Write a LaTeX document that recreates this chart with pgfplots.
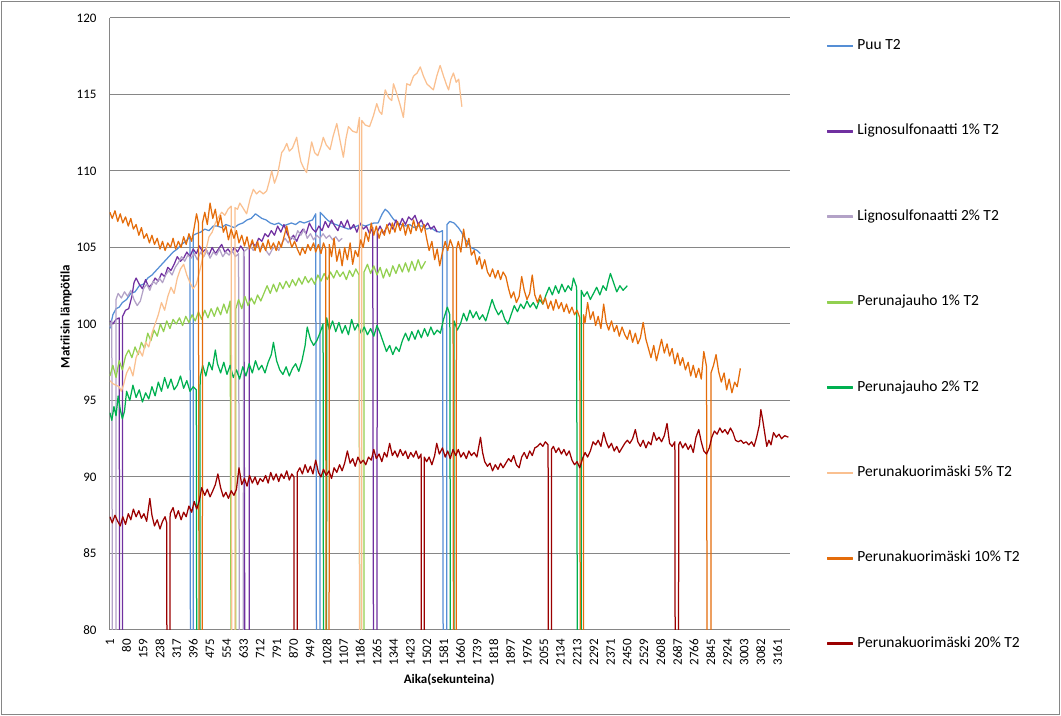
\documentclass[border=0pt]{standalone}
\usepackage{fontspec}
\setmainfont{Carlito}
\usepackage{pgfplots}
\pgfplotsset{compat=1.18}

\definecolor{axisgray}{HTML}{868686}
\definecolor{cPuu}{HTML}{558ED5}
\definecolor{cLigA}{HTML}{7030A0}
\definecolor{cLigB}{HTML}{B3A2C7}
\definecolor{cPjA}{HTML}{92D050}
\definecolor{cPjB}{HTML}{00B050}
\definecolor{cPkA}{HTML}{FAC090}
\definecolor{cPkB}{HTML}{E46C0A}
\definecolor{cPkC}{HTML}{9B0000}

\begin{document}
\begin{tikzpicture}
\path (0,0) rectangle (1061bp,716bp);
\draw[axisgray, line width=1bp] (1.5bp,1.5bp) rectangle (1059.5bp,714.5bp);
\begin{axis}[
    at={(109.7bp,86bp)}, anchor=south west,
    scale only axis, width=680.3bp, height=612bp,
    xmin=0, xmax=3220, ymin=80, ymax=120,
    axis x line*=bottom, axis y line*=left,
    axis line style={draw=axisgray, line width=1bp},
    ymajorgrids, grid style={draw=axisgray, line width=1bp},
    major tick length=0pt,
    ytick={80,85,...,120},
    yticklabels={80,85,90,95,100,105,110,115,120},
    xtick={1,80,...,3161},
    xticklabels={1,80,159,238,317,396,475,554,633,712,791,870,949,1028,1107,1186,1265,1344,1423,1502,1581,1660,1739,1818,1897,1976,2055,2134,2213,2292,2371,2450,2529,2608,2687,2766,2845,2924,3003,3082,3161},
    ticklabel style={font=\fontsize{13bp}{15bp}\selectfont, inner sep=0pt},
    xticklabel style={rotate=90, anchor=east},
    yticklabel style={anchor=east},
    xticklabel shift=9bp, yticklabel shift=13bp,
    xlabel={\textbf{Aika(sekunteina)}},
    ylabel={\textbf{Matriisin lämpötila}},
    label style={font=\fontsize{13bp}{15bp}\selectfont},
    xlabel style={at={(axis description cs:0.499,-0.0817)}, anchor=center},
    ylabel style={at={(axis description cs:-0.0642,0.512)}, anchor=center},
    every axis plot/.append style={line width=1.25bp, line join=round, mark=none},
    legend image code/.code={\fill[#1] (0bp,-0.75bp) rectangle (25bp,0.75bp);},
    legend cell align=left,
    legend style={at={(axis description cs:1.0544,0.9668)}, anchor=north west,
        draw=none, fill=none, inner sep=0pt, column sep=4bp, row sep=70.4bp,
        font=\fontsize{15.5bp}{18bp}\selectfont,
        nodes={inner sep=0pt, text height=11bp, text depth=4bp}},
]
% Puu T2
\addplot[color=cPuu, forget plot] coordinates {
(1,99.7) (15,100.6) (30,101.0) (45,101.1) (60,101.4) (80,101.6) (100,102.0) (120,102.1) (140,102.5) (160,102.6) (180,103.0) (200,103.2) (220,103.5) (240,103.8) (260,104.1) (280,104.4) (300,104.7) (320,104.9) (340,105.2) (360,105.4) (380,105.7) (388,0) (394,0) (396,105.8) (410,105.9) (430,106.0) (450,106.2) (470,106.1) (490,106.4) (510,106.4) (530,106.3) (550,106.5) (570,106.4) (590,106.3) (610,106.5) (630,106.6) (650,106.8) (670,106.9) (690,107.2) (700,107.1) (720,106.9) (740,106.8) (760,106.6) (780,106.5) (800,106.6) (820,106.4) (840,106.5) (860,106.6) (880,106.5) (900,106.7) (920,106.6) (940,106.7) (960,106.8) (975,107.2) (988,0) (994,0) (996,107.3) (1010,107.1) (1030,106.8) (1050,106.6) (1070,106.5) (1090,106.4) (1110,106.3) (1130,106.2) (1150,106.3) (1170,106.4) (1190,106.5) (1210,106.4) (1230,106.5) (1250,106.6) (1270,106.6) (1290,107.2) (1304,107.5) (1320,107.3) (1340,106.9) (1360,106.6) (1380,106.5) (1400,106.4) (1420,106.5) (1440,106.3) (1460,106.4) (1480,106.4) (1500,106.2) (1520,106.3) (1540,106.1) (1560,106.0) (1575,106.1) (1588,0) (1594,0) (1596,106.5) (1610,106.7) (1630,106.6) (1650,106.3) (1665,106.0) (1680,105.6) (1695,105.3) (1710,105.0) (1725,104.9) (1740,104.8) (1754,104.6)
};
% Lignosulfonaatti 1% T2
\addplot[color=cLigA, forget plot] coordinates {
(1,100.2) (15,100.0) (30,100.3) (45,100.4) (53,0) (59,0) (61,100.5) (75,100.9) (90,101.0) (105,101.8) (115,102.7) (125,103.0) (140,102.6) (155,102.3) (170,102.9) (185,102.4) (200,102.6) (215,103.0) (230,102.8) (245,103.3) (260,103.1) (275,103.7) (290,103.5) (305,103.9) (320,104.4) (335,104.1) (350,104.3) (365,104.7) (380,104.4) (395,104.9) (410,104.6) (425,105.1) (440,104.7) (455,104.9) (470,104.5) (485,105.0) (500,104.6) (515,104.9) (530,105.2) (545,104.7) (560,104.9) (575,104.6) (590,105.0) (605,104.7) (620,105.1) (635,104.8) (653,0) (659,0) (661,105.0) (675,105.3) (690,105.1) (705,105.6) (720,105.4) (735,105.9) (750,105.7) (765,106.1) (780,105.8) (795,106.4) (810,106.0) (825,106.5) (840,105.9) (855,105.5) (870,105.8) (885,105.4) (900,105.9) (915,106.2) (930,105.9) (945,106.6) (960,106.2) (975,106.0) (990,106.4) (1005,106.1) (1020,106.7) (1035,106.3) (1050,106.8) (1065,106.4) (1080,106.1) (1095,106.7) (1110,106.3) (1125,106.8) (1140,106.2) (1155,106.5) (1170,106.0) (1185,106.6) (1200,106.2) (1215,106.4) (1230,105.9) (1245,106.3) (1258,0) (1264,0) (1266,106.0) (1280,106.4) (1295,105.9) (1310,106.3) (1325,106.6) (1340,106.2) (1355,106.8) (1370,106.4) (1385,106.9) (1400,106.5) (1415,107.0) (1430,106.8) (1445,107.1) (1460,106.5) (1475,106.8) (1490,106.3) (1505,106.6) (1520,106.2) (1535,106.4) (1550,106.0)
};
% Lignosulfonaatti 2% T2
\addplot[color=cLigB, forget plot] coordinates {
(1,99.8) (10,100.2) (22,0) (28,0) (30,101.6) (40,102.0) (55,101.7) (70,102.1) (85,101.8) (100,102.2) (115,101.6) (130,101.2) (145,101.5) (160,102.3) (175,102.6) (190,102.2) (205,102.8) (220,102.6) (235,103.0) (250,102.7) (265,103.2) (280,103.5) (295,103.2) (310,103.7) (325,104.0) (340,104.4) (355,104.1) (370,104.5) (385,104.3) (400,104.6) (415,104.2) (430,104.7) (445,104.4) (460,104.8) (475,104.3) (490,104.7) (505,104.5) (520,104.9) (535,104.4) (550,104.7) (565,104.5) (580,104.8) (595,104.4) (610,104.6) (625,0) (631,0) (633,104.7) (650,104.9) (665,105.1) (680,104.8) (695,105.2) (710,104.9) (725,105.2) (740,104.8) (755,104.5) (770,104.9) (785,105.1) (800,104.8) (815,105.3) (830,105.6) (845,105.3) (860,105.7) (875,105.5) (890,106.1) (905,105.8) (920,106.2) (935,105.6) (950,105.9) (965,105.5) (980,105.8) (995,105.6) (1010,105.9) (1025,105.6) (1040,105.8) (1055,105.5) (1070,105.7) (1085,105.4) (1100,105.6)
};
% Perunajauho 1% T2
\addplot[color=cPjA, forget plot] coordinates {
(1,96.6) (15,97.3) (30,96.5) (45,97.6) (60,97.0) (75,97.9) (90,98.3) (105,97.8) (120,98.5) (135,98.0) (150,98.8) (165,98.4) (180,99.4) (195,98.9) (210,99.6) (225,99.2) (240,100.0) (255,99.5) (270,100.2) (285,99.7) (300,100.3) (315,100.0) (330,100.4) (345,99.9) (360,100.5) (375,100.1) (390,100.6) (405,100.2) (420,100.8) (435,100.3) (450,100.9) (465,100.4) (480,101.0) (495,100.5) (510,101.1) (525,100.6) (540,101.3) (555,100.7) (570,101.5) (589,0) (595,0) (597,101.0) (610,101.6) (625,101.0) (640,101.8) (655,101.2) (670,101.7) (685,101.3) (700,101.9) (715,101.5) (730,102.0) (745,102.5) (760,102.0) (775,102.6) (790,102.1) (805,102.7) (820,102.3) (835,102.8) (850,102.4) (865,102.9) (880,102.5) (895,103.0) (910,102.6) (925,103.1) (940,102.7) (955,103.0) (970,102.6) (985,103.2) (1000,102.8) (1015,103.3) (1030,102.9) (1045,103.4) (1060,103.0) (1075,103.5) (1090,103.1) (1105,103.4) (1120,102.9) (1135,103.5) (1150,103.1) (1165,103.6) (1180,103.2) (1196,0) (1202,0) (1204,103.4) (1220,103.9) (1235,103.3) (1250,103.8) (1265,103.2) (1280,103.7) (1295,103.0) (1310,103.6) (1325,103.1) (1340,103.8) (1355,103.3) (1370,103.9) (1385,103.4) (1400,104.0) (1415,103.4) (1430,104.1) (1445,103.5) (1460,104.2) (1475,103.6) (1495,104.1)
};
% Perunajauho 2% T2
\addplot[color=cPjB, forget plot] coordinates {
(1,94.2) (10,93.7) (20,94.6) (30,94.0) (40,95.3) (50,94.4) (60,93.8) (70,94.3) (80,95.6) (95,95.0) (110,96.0) (125,95.2) (140,95.7) (155,94.9) (170,95.5) (185,95.1) (200,95.9) (215,95.3) (230,96.2) (245,95.6) (260,96.5) (275,95.8) (290,96.4) (305,95.7) (320,96.0) (335,96.6) (350,95.8) (365,96.3) (380,95.6) (395,95.9) (410,95.7) (420,0) (426,0) (428,96.5) (440,97.3) (455,96.6) (470,97.5) (485,97.0) (500,98.3) (510,97.4) (525,96.8) (540,97.5) (555,96.7) (570,97.3) (585,96.5) (600,97.0) (615,96.4) (630,97.2) (645,96.6) (660,97.4) (675,96.8) (690,97.6) (705,97.0) (720,97.3) (735,96.8) (750,97.5) (765,98.0) (775,98.8) (790,97.6) (805,97.0) (820,96.7) (835,97.2) (850,96.6) (865,97.1) (880,97.4) (895,96.9) (910,97.6) (925,98.6) (935,99.8) (950,99.0) (965,98.6) (980,98.9) (995,99.4) (1010,100.0) (1019,0) (1025,0) (1027,100.4) (1040,99.6) (1055,100.2) (1070,99.5) (1085,100.1) (1100,99.4) (1115,99.9) (1130,99.3) (1145,100.3) (1160,99.6) (1175,100.0) (1190,99.4) (1205,99.8) (1220,99.3) (1235,99.7) (1250,99.2) (1265,99.9) (1280,99.4) (1295,98.8) (1310,98.2) (1325,98.6) (1340,98.0) (1355,98.5) (1370,98.2) (1385,98.9) (1400,99.4) (1415,98.9) (1430,99.5) (1445,99.0) (1460,99.6) (1475,99.1) (1490,99.7) (1505,99.2) (1520,99.8) (1535,99.3) (1550,99.6) (1565,99.4) (1580,100.3) (1598,101.1) (1610,100.6) (1622,0) (1628,0) (1630,100.2) (1645,99.6) (1660,100.0) (1675,100.7) (1690,100.2) (1705,100.9) (1720,100.4) (1735,100.8) (1750,100.3) (1765,100.6) (1780,100.2) (1795,100.9) (1810,101.6) (1825,101.0) (1840,100.6) (1855,100.9) (1870,100.3) (1885,100.0) (1900,100.6) (1915,101.2) (1930,100.8) (1945,101.3) (1960,101.0) (1975,101.5) (1990,101.1) (2005,101.4) (2020,101.0) (2035,101.6) (2050,101.3) (2065,101.9) (2080,102.4) (2095,101.9) (2110,102.5) (2125,102.0) (2140,102.6) (2155,102.1) (2170,102.5) (2185,102.2) (2195,103.0) (2210,102.4) (2224,0) (2230,0) (2232,102.2) (2245,101.8) (2260,102.1) (2275,101.6) (2290,102.0) (2305,102.4) (2320,101.9) (2335,102.5) (2350,102.2) (2360,102.8) (2370,103.3) (2385,102.7) (2400,102.1) (2415,102.5) (2430,102.2) (2450,102.5)
};
% Perunakuorimaski 5% T2
\addplot[color=cPkA, forget plot] coordinates {
(1,96.3) (15,96.1) (30,96.0) (45,95.9) (55,95.6) (65,96.0) (80,96.8) (95,97.2) (110,96.6) (125,97.8) (140,98.3) (155,97.9) (170,98.8) (185,98.5) (200,99.4) (215,100.0) (230,100.6) (245,101.4) (260,100.9) (275,101.8) (290,102.4) (305,102.0) (320,103.0) (335,103.6) (350,103.9) (365,103.2) (380,102.7) (395,102.3) (410,102.6) (425,103.4) (440,104.3) (455,104.8) (470,105.7) (485,106.0) (500,106.6) (515,107.0) (530,107.3) (545,107.1) (560,107.5) (575,107.7) (585,0) (591,0) (593,107.6) (605,107.5) (616,107.9) (630,107.6) (648,107.2) (665,108.2) (680,108.8) (695,108.5) (710,108.7) (727,108.5) (743,108.7) (755,109.3) (767,110.0) (780,109.2) (795,109.8) (814,111.2) (825,111.4) (838,111.8) (850,111.3) (865,111.5) (885,112.2) (895,111.3) (905,110.6) (918,110.2) (932,109.9) (945,111.0) (956,111.9) (970,111.2) (985,111.0) (1000,111.6) (1011,112.2) (1025,111.7) (1043,111.4) (1058,112.3) (1075,113.1) (1090,112.0) (1106,110.9) (1118,112.1) (1130,112.9) (1150,112.6) (1170,112.5) (1182,113.5) (1185,0) (1191,0) (1193,113.3) (1210,113.0) (1230,112.9) (1248,113.6) (1264,114.4) (1276,113.9) (1288,113.7) (1304,115.3) (1320,114.8) (1335,114.6) (1343,115.7) (1360,115.0) (1375,114.3) (1390,113.5) (1406,115.7) (1422,115.6) (1438,116.2) (1455,116.4) (1470,116.8) (1485,116.2) (1501,115.7) (1516,115.5) (1532,115.3) (1548,116.2) (1564,116.9) (1580,116.2) (1595,115.6) (1604,115.3) (1615,116.0) (1627,116.4) (1640,115.8) (1652,116.0) (1660,115.0) (1667,114.2)
};
% Perunakuorimaski 10% T2
\addplot[color=cPkB, forget plot] coordinates {
(1,107.3) (12,106.9) (25,107.4) (38,106.7) (50,107.2) (62,106.6) (75,107.0) (88,106.4) (100,106.9) (112,106.2) (125,106.5) (138,105.8) (150,106.3) (162,105.6) (175,105.9) (188,105.3) (200,105.8) (212,105.2) (225,105.6) (238,104.9) (250,105.4) (262,104.8) (275,105.3) (288,105.0) (300,105.6) (312,104.9) (325,105.4) (338,105.0) (350,105.7) (362,105.2) (375,105.9) (388,105.4) (400,106.3) (411,107.2) (420,106.6) (431,0) (437,0) (439,106.6) (450,107.3) (462,106.5) (475,107.9) (488,106.9) (500,107.5) (512,106.4) (525,107.1) (538,106.0) (550,106.4) (562,105.5) (575,106.2) (588,105.6) (600,106.1) (612,105.3) (625,105.8) (638,105.1) (650,105.7) (662,104.9) (675,105.5) (688,104.8) (700,105.4) (712,104.7) (725,105.3) (738,104.8) (750,105.5) (762,104.9) (775,105.3) (788,104.8) (800,105.4) (812,105.0) (825,105.7) (838,106.4) (850,105.6) (862,105.0) (875,105.4) (888,104.9) (901,104.5) (912,105.0) (925,104.6) (938,105.2) (950,104.8) (965,105.3) (975,104.7) (988,105.2) (1000,104.6) (1012,105.3) (1022,104.9) (1031,0) (1037,0) (1039,105.2) (1050,104.4) (1062,105.6) (1075,104.1) (1088,104.9) (1100,103.8) (1112,105.0) (1125,104.2) (1138,105.3) (1150,103.9) (1162,104.8) (1175,104.4) (1188,105.5) (1200,105.0) (1212,106.0) (1225,105.4) (1238,106.6) (1250,105.8) (1262,106.4) (1275,105.6) (1288,106.2) (1300,105.8) (1312,106.5) (1325,105.9) (1338,106.6) (1350,106.0) (1362,106.7) (1375,106.1) (1388,106.6) (1400,105.8) (1412,106.5) (1425,105.9) (1438,106.8) (1450,106.1) (1462,106.6) (1475,106.0) (1488,106.5) (1500,105.6) (1512,104.8) (1525,105.4) (1538,104.2) (1550,104.9) (1562,103.8) (1575,104.7) (1588,105.4) (1600,104.8) (1612,105.5) (1625,105.0) (1633,0) (1639,0) (1641,104.9) (1650,105.4) (1662,104.7) (1675,106.2) (1688,105.0) (1700,105.6) (1712,104.5) (1725,104.8) (1738,103.9) (1750,104.4) (1762,103.6) (1775,104.2) (1788,103.4) (1800,103.1) (1812,103.6) (1825,103.0) (1838,103.5) (1850,102.9) (1862,103.4) (1875,103.1) (1888,102.3) (1900,101.7) (1912,102.1) (1925,101.4) (1938,101.8) (1950,103.1) (1962,102.2) (1975,101.6) (1988,102.0) (2000,103.2) (2012,101.9) (2025,101.4) (2038,101.9) (2050,101.3) (2062,101.7) (2075,101.0) (2088,101.5) (2100,100.9) (2112,101.6) (2125,101.0) (2138,101.4) (2150,100.8) (2162,101.3) (2175,100.7) (2188,101.1) (2200,100.6) (2212,100.9) (2225,100.4) (2235,0) (2241,0) (2243,100.6) (2250,100.1) (2262,101.4) (2275,100.3) (2288,100.8) (2300,99.9) (2312,100.5) (2325,99.7) (2338,101.3) (2350,100.1) (2362,99.6) (2375,100.2) (2388,99.5) (2400,99.9) (2412,99.2) (2425,99.8) (2438,99.3) (2450,99.0) (2462,99.6) (2475,98.8) (2488,99.4) (2500,98.7) (2512,99.1) (2525,100.1) (2538,99.0) (2550,98.4) (2562,97.8) (2575,98.6) (2588,97.6) (2600,98.3) (2612,99.0) (2625,98.1) (2638,98.7) (2650,97.9) (2662,98.4) (2675,97.4) (2688,98.1) (2700,97.3) (2712,97.8) (2725,97.0) (2738,97.5) (2750,96.6) (2762,97.3) (2775,96.5) (2788,97.1) (2800,96.4) (2812,98.2) (2825,97.2) (2838,0) (2844,0) (2846,96.8) (2858,97.3) (2870,98.0) (2882,96.9) (2895,96.2) (2908,96.8) (2920,95.7) (2932,96.4) (2945,95.5) (2958,96.2) (2970,95.9) (2985,97.1)
};
% Perunakuorimaski 20% T2
\addplot[color=cPkC, forget plot] coordinates {
(1,87.4) (12,87.0) (25,87.5) (38,87.1) (50,86.8) (62,87.4) (75,86.9) (88,87.6) (100,87.2) (112,87.9) (125,87.4) (138,87.8) (150,87.3) (162,87.6) (175,87.1) (190,88.6) (200,87.5) (212,86.8) (225,87.2) (238,86.6) (250,87.1) (262,87.4) (270,87.0) (278,0) (284,0) (286,87.6) (300,88.0) (312,87.3) (325,87.8) (338,87.2) (350,87.7) (362,87.4) (375,88.1) (388,87.7) (400,88.4) (412,87.9) (425,88.5) (435,89.3) (450,88.8) (462,89.2) (475,88.7) (488,89.1) (500,89.5) (512,90.2) (525,89.3) (538,88.7) (550,89.0) (562,88.6) (575,89.1) (588,88.8) (600,89.2) (612,90.6) (625,89.5) (638,89.9) (650,89.4) (662,90.1) (675,89.6) (688,90.0) (700,89.5) (712,89.9) (725,89.7) (738,90.1) (750,89.6) (762,90.3) (775,89.8) (788,90.2) (800,89.7) (812,90.2) (825,89.9) (838,90.4) (850,89.8) (862,90.2) (872,90.0) (880,0) (886,0) (888,90.3) (900,90.6) (912,90.2) (925,90.8) (938,90.3) (950,90.7) (962,90.2) (975,91.1) (988,90.3) (1000,90.0) (1012,90.5) (1025,90.1) (1038,90.4) (1050,89.9) (1062,90.6) (1075,90.3) (1088,90.8) (1100,90.4) (1112,90.9) (1125,91.7) (1138,90.9) (1150,91.2) (1162,90.7) (1175,91.3) (1188,90.9) (1200,91.1) (1212,90.8) (1225,91.3) (1238,91.1) (1250,91.8) (1262,91.2) (1275,91.5) (1288,91.0) (1300,91.6) (1312,91.3) (1325,92.2) (1338,91.4) (1350,91.7) (1362,91.3) (1375,91.8) (1388,91.4) (1400,91.7) (1412,91.2) (1425,91.6) (1438,91.3) (1450,91.7) (1462,91.2) (1474,91.5) (1481,0) (1487,0) (1489,91.3) (1500,91.0) (1512,91.3) (1525,90.8) (1538,91.4) (1548,92.2) (1560,91.5) (1575,91.9) (1588,91.3) (1600,91.7) (1612,91.2) (1625,91.8) (1638,91.4) (1650,91.8) (1662,91.3) (1675,91.6) (1688,91.2) (1700,91.7) (1712,91.4) (1725,91.6) (1738,91.3) (1755,92.6) (1765,91.6) (1775,91.0) (1788,90.7) (1800,90.9) (1812,90.4) (1825,90.8) (1838,90.5) (1850,90.9) (1862,90.6) (1875,90.9) (1888,91.2) (1900,91.0) (1912,91.4) (1925,90.8) (1938,90.6) (1950,91.3) (1962,91.6) (1975,91.2) (1988,91.7) (2000,91.4) (2012,91.9) (2025,92.0) (2038,92.2) (2050,92.0) (2062,92.3) (2075,92.1) (2083,0) (2089,0) (2091,91.8) (2100,92.0) (2112,91.6) (2125,91.9) (2138,91.5) (2150,91.8) (2162,91.4) (2175,91.7) (2188,91.1) (2200,90.8) (2212,91.0) (2225,90.6) (2238,91.2) (2250,91.6) (2262,91.3) (2275,91.7) (2288,92.3) (2300,92.1) (2312,92.4) (2325,92.0) (2338,92.9) (2350,92.3) (2362,91.9) (2375,92.2) (2388,91.7) (2400,92.0) (2412,91.6) (2425,91.9) (2438,92.2) (2450,92.4) (2462,92.2) (2475,92.5) (2488,93.1) (2500,92.3) (2512,92.0) (2525,92.4) (2538,91.9) (2550,92.3) (2562,92.1) (2575,92.9) (2588,92.4) (2600,92.6) (2612,92.3) (2625,92.7) (2638,93.5) (2650,92.2) (2662,92.0) (2675,92.3) (2685,0) (2691,0) (2693,92.1) (2700,92.3) (2712,91.9) (2725,92.2) (2738,91.8) (2750,92.1) (2762,91.6) (2775,92.6) (2788,93.1) (2800,92.3) (2812,91.7) (2825,91.5) (2838,91.9) (2850,92.6) (2862,93.0) (2875,92.8) (2888,93.2) (2900,92.9) (2912,93.1) (2925,92.8) (2938,93.2) (2950,92.9) (2962,92.4) (2975,92.3) (2988,92.4) (3000,92.2) (3012,92.3) (3025,92.1) (3038,92.3) (3050,92.0) (3062,92.6) (3075,93.4) (3082,94.4) (3090,93.8) (3100,92.9) (3110,92.0) (3120,92.4) (3130,92.1) (3142,92.9) (3155,92.6) (3168,92.8) (3180,92.5) (3195,92.7) (3212,92.6)
};
\addlegendimage{color=cPuu}\addlegendentry{Puu T2}
\addlegendimage{color=cLigA}\addlegendentry{Lignosulfonaatti 1\% T2}
\addlegendimage{color=cLigB}\addlegendentry{Lignosulfonaatti 2\% T2}
\addlegendimage{color=cPjA}\addlegendentry{Perunajauho 1\% T2}
\addlegendimage{color=cPjB}\addlegendentry{Perunajauho 2\% T2}
\addlegendimage{color=cPkA}\addlegendentry{Perunakuorimäski 5\% T2}
\addlegendimage{color=cPkB}\addlegendentry{Perunakuorimäski 10\% T2}
\addlegendimage{color=cPkC}\addlegendentry{Perunakuorimäski 20\% T2}
\end{axis}
\end{tikzpicture}
\end{document}
